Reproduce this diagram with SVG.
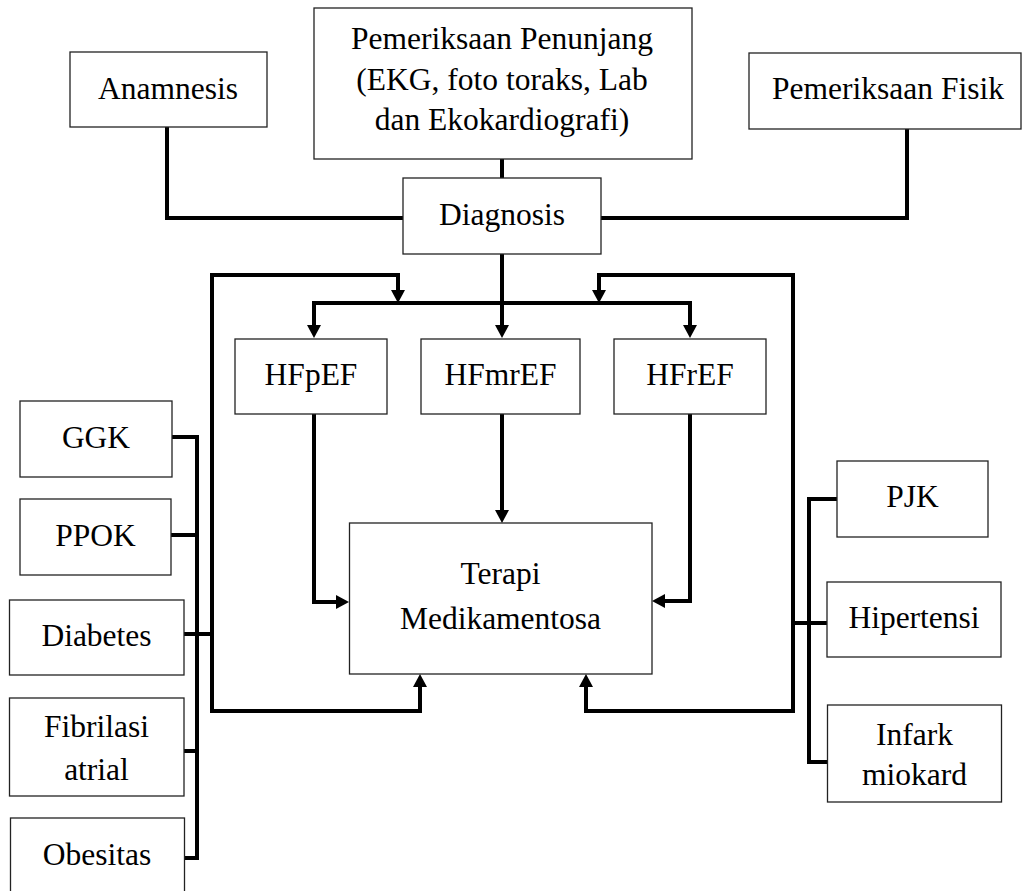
<svg xmlns="http://www.w3.org/2000/svg" width="1022" height="891" viewBox="0 0 1022 891">
<style>
.box{fill:#fff;stroke:#222;stroke-width:1.3}
text{font-family:'Liberation Serif','DejaVu Serif',serif;font-size:31.5px;fill:#000;text-anchor:middle}
.c{fill:none;stroke:#000;stroke-width:4;stroke-linejoin:miter}
</style>
<defs>
<marker id="ah" markerUnits="userSpaceOnUse" markerWidth="14" markerHeight="14" viewBox="0 0 13 14" refX="0" refY="7" orient="auto">
<path d="M0,0 L13,7 L0,14 Z" fill="#000"/>
</marker>
</defs>
<rect width="1022" height="891" fill="#fff"/>
<g id="connectors">
<path class="c" d="M167,127 V218 H403"/>
<path class="c" d="M907,129 V218 H601"/>
<path class="c" d="M502,159 V178"/>
<path class="c" d="M502,254 V325" marker-end="url(#ah)"/>
<path class="c" d="M502,303 H314 V325" marker-end="url(#ah)"/>
<path class="c" d="M502,303 H690 V325" marker-end="url(#ah)"/>
<path class="c" d="M212,634 V275 H398 V290" marker-end="url(#ah)"/>
<path class="c" d="M212,634 V711 H420 V687" marker-end="url(#ah)"/>
<path class="c" d="M793,623 V275 H599 V290" marker-end="url(#ah)"/>
<path class="c" d="M793,623 V711 H586 V687" marker-end="url(#ah)"/>
<path class="c" d="M314,414 V602 H336" marker-end="url(#ah)"/>
<path class="c" d="M502,414 V510" marker-end="url(#ah)"/>
<path class="c" d="M690,414 V601 H665" marker-end="url(#ah)"/>
<path class="c" d="M172,437 H197 M197,435 V860 M171,535 H197 M184,634 H212 M184,751 H197 M184,858 H197"/>
<path class="c" d="M809,497 V764 M809,499 H837 M793,623 H827 M809,762 H828"/>
</g>
<g id="anamnesis"><rect class="box" x="70" y="52" width="197" height="75"/><text x="168" y="99" font-family="Liberation Serif">Anamnesis</text></g>
<g id="penunjang"><rect class="box" x="314" y="8" width="378" height="151"/>
<text x="502" y="49" font-family="Liberation Serif">Pemeriksaan Penunjang</text>
<text x="502" y="90" font-family="Liberation Serif">(EKG, foto toraks, Lab</text>
<text x="502" y="130" font-family="Liberation Serif">dan Ekokardiografi)</text></g>
<g id="fisik"><rect class="box" x="749" y="53" width="272" height="76"/><text x="888" y="99" font-family="Liberation Serif">Pemeriksaan Fisik</text></g>
<g id="diagnosis"><rect class="box" x="403" y="178" width="198" height="76"/><text x="502" y="225" font-family="Liberation Serif">Diagnosis</text></g>
<g id="hfpef"><rect class="box" x="235" y="339" width="152" height="75"/><text x="311" y="385" font-family="Liberation Serif">HFpEF</text></g>
<g id="hfmref"><rect class="box" x="421" y="339" width="159" height="75"/><text x="500.5" y="385" font-family="Liberation Serif">HFmrEF</text></g>
<g id="hfref"><rect class="box" x="614" y="339" width="152" height="75"/><text x="690" y="385" font-family="Liberation Serif">HFrEF</text></g>
<g id="terapi"><rect class="box" x="349.5" y="523" width="302.5" height="151"/>
<text x="500.5" y="584" font-family="Liberation Serif">Terapi</text>
<text x="500.5" y="629" font-family="Liberation Serif">Medikamentosa</text></g>
<g id="ggk"><rect class="box" x="20" y="401" width="152" height="76"/><text x="96" y="448" font-family="Liberation Serif">GGK</text></g>
<g id="ppok"><rect class="box" x="20" y="499" width="151" height="76"/><text x="95.5" y="546" font-family="Liberation Serif">PPOK</text></g>
<g id="diabetes"><rect class="box" x="9.5" y="600" width="174.5" height="75"/><text x="96.5" y="646" font-family="Liberation Serif">Diabetes</text></g>
<g id="fibrilasi"><rect class="box" x="9.5" y="698" width="174.5" height="98"/>
<text x="96.5" y="737" font-family="Liberation Serif">Fibrilasi</text>
<text x="96.5" y="780" font-family="Liberation Serif">atrial</text></g>
<g id="obesitas"><rect class="box" x="10.5" y="818" width="174" height="76"/><text x="97" y="865" font-family="Liberation Serif">Obesitas</text></g>
<g id="pjk"><rect class="box" x="837" y="461" width="151" height="76"/><text x="912.5" y="507" font-family="Liberation Serif">PJK</text></g>
<g id="hipertensi"><rect class="box" x="827" y="582" width="174" height="75"/><text x="914" y="628" font-family="Liberation Serif">Hipertensi</text></g>
<g id="infark"><rect class="box" x="827.5" y="705" width="174" height="97"/>
<text x="914.5" y="745" font-family="Liberation Serif">Infark</text>
<text x="914.5" y="785" font-family="Liberation Serif">miokard</text></g>
</svg>
